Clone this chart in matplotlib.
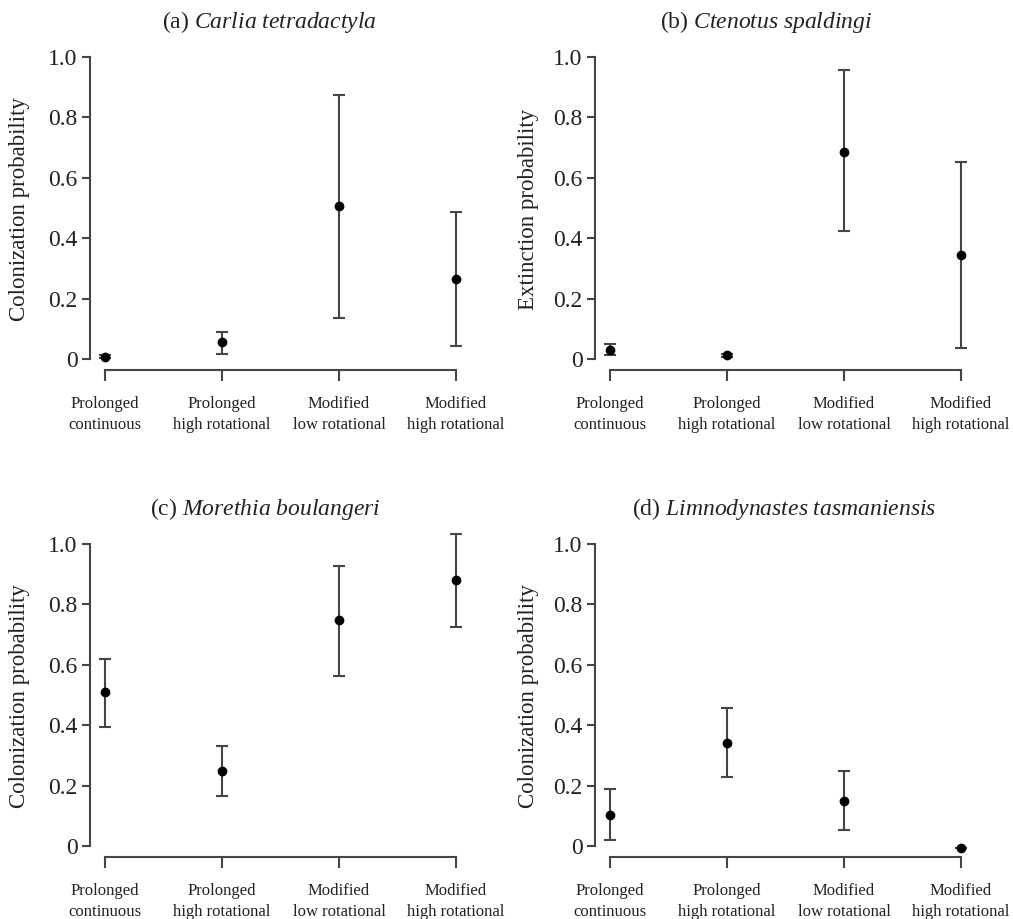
import matplotlib
matplotlib.use("Agg")
import matplotlib.pyplot as plt
import numpy as np

plt.rcParams['font.family'] = ['Liberation Serif', 'DejaVu Serif']
plt.rcParams['mathtext.fontset'] = 'custom'
plt.rcParams['mathtext.rm'] = 'Liberation Serif'
plt.rcParams['mathtext.it'] = 'Liberation Serif:italic'

# ---- data ----
treatments = ["Prolonged\ncontinuous", "Prolonged\nhigh rotational",
              "Modified\nlow rotational", "Modified\nhigh rotational"]
panel_tags = ["(a)", "(b)", "(c)", "(d)"]
species = ["Carlia tetradactyla", "Ctenotus spaldingi",
           "Morethia boulangeri", "Limnodynastes tasmaniensis"]
ylabels = ["Colonization probability", "Extinction probability",
           "Colonization probability", "Colonization probability"]
ytick_vals = [0, 0.2, 0.4, 0.6, 0.8, 1.0]
ytick_labels = ["0", "0.2", "0.4", "0.6", "0.8", "1.0"]

a_est = [0.007, 0.055, 0.505, 0.265]
a_lo = [0.003, 0.015, 0.135, 0.044]
a_hi = [0.012, 0.091, 0.873, 0.488]

b_est = [0.031, 0.012, 0.687, 0.345]
b_lo = [0.012, 0.008, 0.425, 0.035]
b_hi = [0.051, 0.016, 0.956, 0.651]

c_est = [0.509, 0.249, 0.747, 0.881]
c_lo = [0.395, 0.166, 0.563, 0.724]
c_hi = [0.618, 0.331, 0.927, 1.032]

d_est = [0.104, 0.341, 0.148, -0.006]
d_lo = [0.020, 0.230, 0.053, -0.006]
d_hi = [0.188, 0.458, 0.249, -0.006]

panels = [(a_est, a_lo, a_hi), (b_est, b_lo, b_hi),
          (c_est, c_lo, c_hi), (d_est, d_lo, d_hi)]

# ---- layout (pixels) ----
W, H = 1013, 919
fig = plt.figure(figsize=(W / 100, H / 100), dpi=100)
line_col = '#454545'
text_col = '#222222'

YMIN, YMAX = -0.035, 1.05
XMIN, XMAX = 0.872, 4.128
unit = 302.0  # px per 1.0 in y

# (left px, y=0 px)
origins = [(90, 359), (595, 359), (90, 846), (595, 846)]
title_x = [0.472, 0.449, 0.46, 0.496]
ylabel_x = [-0.157, -0.146, -0.157, -0.146]

x = np.arange(1, 5)
for i, (est, lo, hi) in enumerate(panels):
    lpx, y0 = origins[i]
    bottom_px = y0 - YMIN * unit
    top_px = y0 - YMAX * unit
    ax = fig.add_axes([lpx / W, (H - bottom_px) / H, 381 / W,
                       (bottom_px - top_px) / H])
    est = np.array(est); lo = np.array(lo); hi = np.array(hi)
    ax.errorbar(x, est, yerr=[est - lo, hi - est], fmt='o', color='black',
                ms=6, ecolor=line_col, elinewidth=1.5, capsize=4,
                capthick=1.5, zorder=3)
    ax.set_xlim(XMIN, XMAX)
    ax.set_ylim(YMIN, YMAX)
    for s in ['top', 'right']:
        ax.spines[s].set_visible(False)
    ax.spines['left'].set_bounds(0, 1)
    ax.spines['bottom'].set_bounds(1, 4)
    for s in ['left', 'bottom']:
        ax.spines[s].set_color(line_col)
        ax.spines[s].set_linewidth(1.5)
    ax.set_yticks(ytick_vals)
    ax.set_yticklabels(ytick_labels)
    ax.set_xticks(x)
    ax.set_xticklabels(treatments, linespacing=1.4)
    ax.tick_params(axis='y', length=6, width=1.5, color=line_col, pad=3,
                   labelsize=17, labelcolor=text_col)
    ax.tick_params(axis='x', length=8, width=1.5, color=line_col, pad=11,
                   labelsize=12, labelcolor=text_col)
    ax.set_ylabel(ylabels[i], fontsize=16.5, color=text_col)
    ax.yaxis.set_label_coords(ylabel_x[i], 0.49)
    ax.set_title(panel_tags[i] + " $\\it{" + species[i].replace(" ", "\\ ") + "}$",
                 fontsize=17, color=text_col, x=title_x[i], pad=10)

fig.savefig("out.png", dpi=100)
